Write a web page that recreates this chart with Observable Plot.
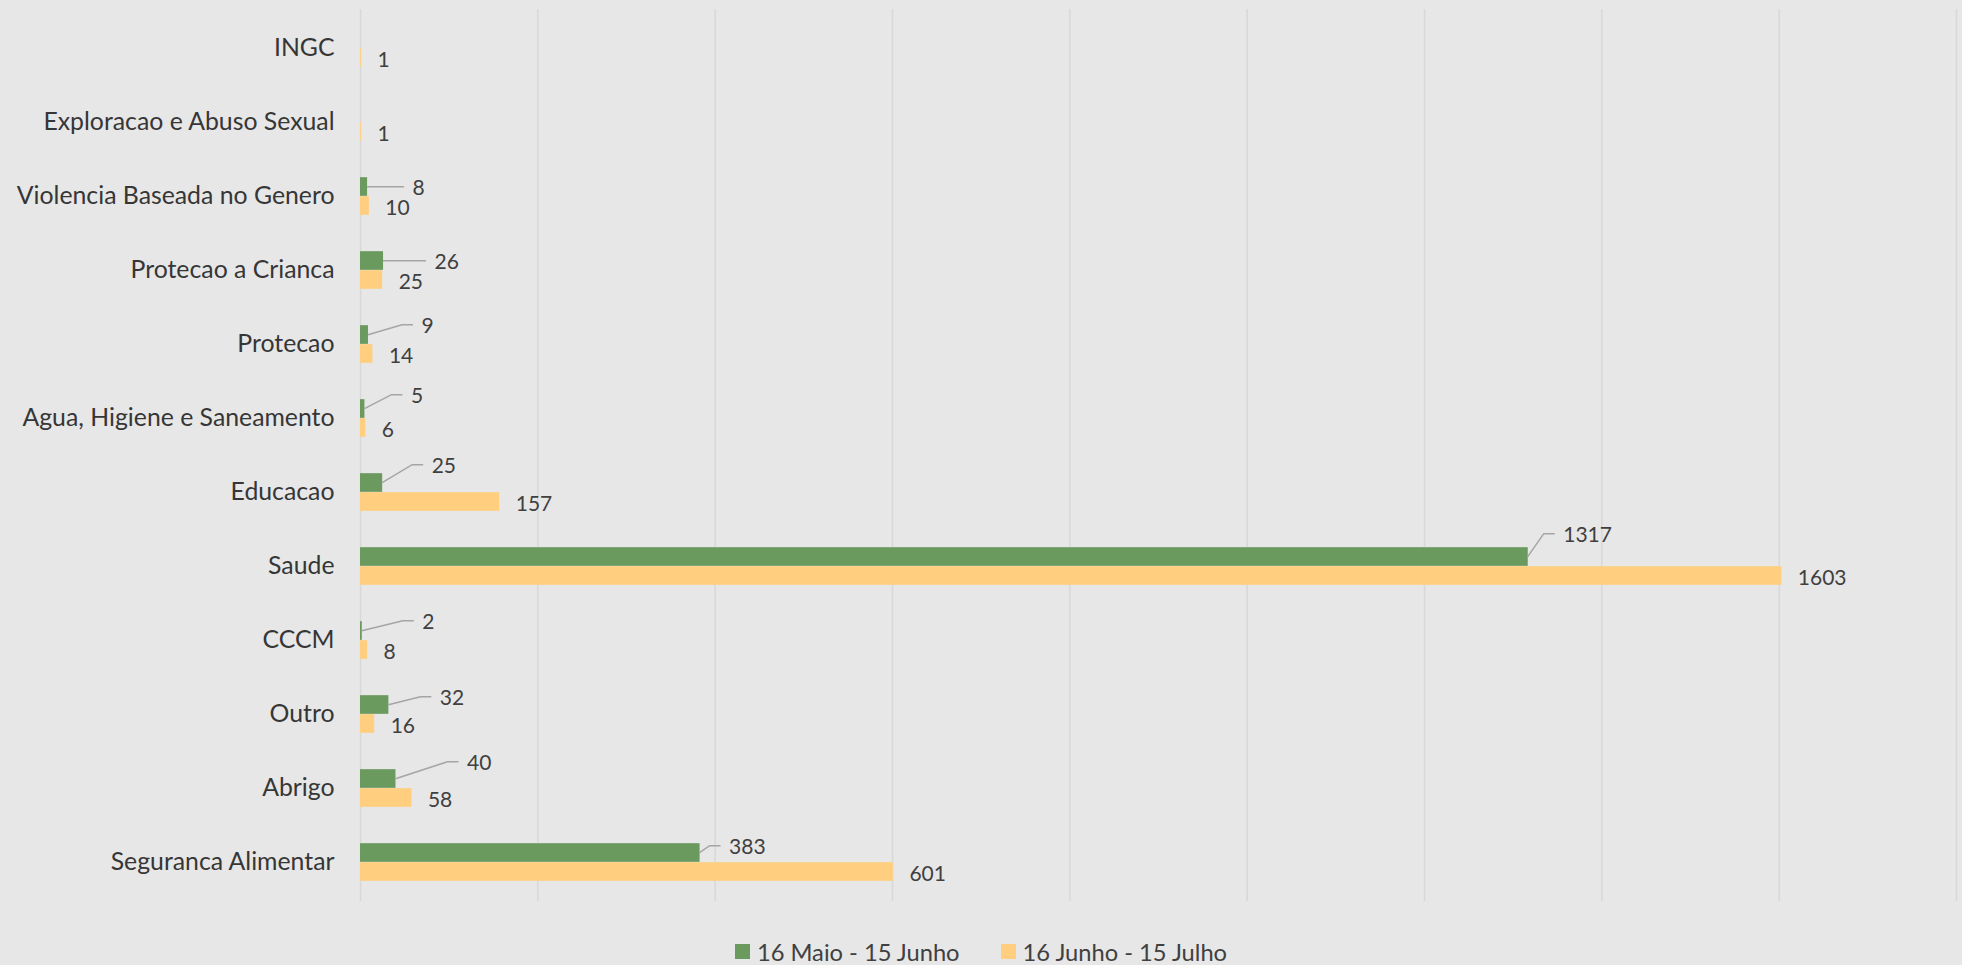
<!DOCTYPE html>
<html>
<head>
<meta charset="utf-8">
<script src="https://cdn.jsdelivr.net/npm/d3@7"></script>
<script src="https://cdn.jsdelivr.net/npm/@observablehq/plot@0.6"></script>
<style>
  html, body { margin: 0; padding: 0; background: #e7e7e7; }
  #chart svg { display: block; background: #e7e7e7; }
  .lg-swatches { font-family: Lato, sans-serif !important; font-size: 23.7px !important; color: #404040 !important;
        display: flex !important; justify-content: center !important; align-items: center !important;
        min-height: 0 !important; height: 35px; margin: 4px 0 0 0 !important; }
  .lg-swatch { margin-right: 41px !important; }
  .lg-swatch:last-child { margin-right: 0 !important; }
  .lg-swatch > svg { margin-right: 7px !important; }
</style>
</head>
<body>
<div id="chart"></div>
<script>
// Categories, top to bottom
const categories = [
  "INGC",
  "Exploracao e Abuso Sexual",
  "Violencia Baseada no Genero",
  "Protecao a Crianca",
  "Protecao",
  "Agua, Higiene e Saneamento",
  "Educacao",
  "Saude",
  "CCCM",
  "Outro",
  "Abrigo",
  "Seguranca Alimentar"
];
const seriesNames = ["16 Maio - 15 Junho", "16 Junho - 15 Julho"];
const seriesColors = ["#6b9a5e", "#ffcf7f"];
const maioJunho = [null, null, 8, 26, 9, 5, 25, 1317, 2, 32, 40, 383];
const junhoJulho = [1, 1, 10, 25, 14, 6, 157, 1603, 8, 16, 58, 601];
const xTicks = [0, 200, 400, 600, 800, 1000, 1200, 1400, 1600, 1800];

// Pixel nudges [dx, dy] for the callout labels of the first series
const calloutNudge = [null, null, [45, 0], [51, 0], [53, -10], [46, -14], [49, -18], [35, -23], [60, -10], [51, -8], [71, -17], [29, -7]];

const rows = categories.map((cat, i) => ({cat, a: maioJunho[i], b: junhoJulho[i], nudge: calloutNudge[i]}));
const withA = rows.filter(d => d.a != null);

const W = 1962, H = 930, MT = 9, MB = 29;
const bandH = (H - MT - MB) / categories.length;
const barH = 19;
const half = bandH / 2;
const valueFont = {fontSize: 21, fontFamily: "Lato, sans-serif", fill: "#404040"};

// Leader lines from the end of each green bar to its label
const leaders = Plot.dot(withA, {
  x: "a", y: "cat",
  render(index, scales, values) {
    const g = d3.create("svg:g")
      .attr("fill", "none").attr("stroke", "#a5a5a5").attr("stroke-width", 1.5);
    for (const i of index) {
      const d = withA[i];
      const x0 = values.x[i];
      const yc = values.y[i] + half - barH / 2;
      const [dx, dy] = d.nudge;
      const pts = dy === 0
        ? [[x0, yc], [x0 + dx - 8, yc]]
        : [[x0, yc], [x0 + dx - 19, yc + dy], [x0 + dx - 8, yc + dy]];
      g.append("path").attr("d", d3.line()(pts));
    }
    return g.node();
  }
});

const plot = Plot.plot({
  width: W,
  height: H,
  marginTop: MT,
  marginBottom: MB,
  marginLeft: 360,
  marginRight: 6,
  style: {background: "#e7e7e7", color: "#333333", fontFamily: "Lato, sans-serif"},
  x: {domain: [0, 1800], axis: null},
  y: {domain: categories, padding: 0, axis: null},
  marks: [
    Plot.gridX(xTicks, {stroke: "#d8d8d8", strokeOpacity: 1, strokeWidth: 1.5}),
    Plot.axisY({tickSize: 0, tickPadding: 26, fontSize: 24.8, fill: "#363636", label: null}),
    Plot.barX(withA, {
      x: "a", y: "cat", fill: seriesColors[0],
      insetTop: half - barH, insetBottom: half
    }),
    Plot.barX(rows, {
      x: "b", y: "cat", fill: seriesColors[1],
      insetTop: half, insetBottom: half - barH
    }),
    leaders,
    ...withA.map(d => Plot.text([d], {
      x: "a", y: "cat", text: r => String(r.a),
      dx: d.nudge[0], dy: -barH / 2 + d.nudge[1] + 1,
      textAnchor: "start", ...valueFont
    })),
    Plot.text(rows, {
      x: "b", y: "cat", text: r => String(r.b),
      dx: 16, dy: barH / 2 + 2,
      textAnchor: "start", ...valueFont
    })
  ]
});

const legend = Plot.legend({
  color: {domain: seriesNames, range: seriesColors},
  legend: "swatches",
  swatchSize: 15,
  className: "lg"
});

const host = document.getElementById("chart");
host.append(plot);
host.append(legend);
</script>
</body>
</html>
